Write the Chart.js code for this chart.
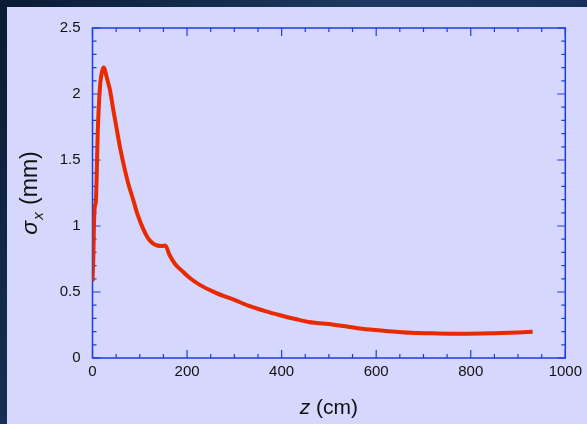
<!DOCTYPE html>
<html lang="en">
<head>
    <meta charset="UTF-8">
    <title>Sigma x vs z</title>
    <script src="https://cdn.jsdelivr.net/npm/chart.js"></script>
    <style>
        html, body {
            margin: 0;
            padding: 0;
        }
        body {
            width: 587px;
            height: 424px;
            overflow: hidden;
            background: linear-gradient(120deg, #0a1b33, #1c3a62 45%, #16305a 70%, #0b1d38);
            position: relative;
        }
        .panel {
            position: absolute;
            left: 7px;
            top: 7px;
            width: 580px;
            height: 417px;
            background: rgb(214, 215, 252);
        }
    </style>
</head>
<body>
    <div class="panel">
        <canvas id="sigmaChart" width="580" height="417"></canvas>
    </div>

    <script>
        // beam size along z
        const zValues = [0, 2, 3, 5, 7, 9, 11, 14, 17, 21, 24, 27, 32, 37, 44, 51, 58, 65, 75, 86, 96, 107, 117, 127, 137, 147, 154, 163, 175, 191, 208, 226, 261, 300, 331, 365, 401, 429, 457, 475, 499, 535, 570, 620, 675, 730, 780, 850, 900, 931];
        const sigmaValues = [0.58, 0.8, 1.0, 1.15, 1.18, 1.4, 1.7, 1.95, 2.1, 2.18, 2.2, 2.17, 2.1, 2.03, 1.88, 1.74, 1.6, 1.48, 1.33, 1.2, 1.08, 0.98, 0.91, 0.87, 0.852, 0.848, 0.852, 0.78, 0.71, 0.655, 0.6, 0.556, 0.493, 0.44, 0.394, 0.355, 0.32, 0.295, 0.272, 0.265, 0.258, 0.24, 0.221, 0.205, 0.191, 0.186, 0.184, 0.188, 0.193, 0.198];

        const xTickValues = [0, 200, 400, 600, 800, 1000];
        const yTickValues = [0, 0.5, 1, 1.5, 2, 2.5];

        const frameColor = '#1d3ce0';

        // box with inward major/minor ticks on all four sides
        const framePlugin = {
            id: 'frame',
            beforeDatasetsDraw(chart) {
                const ctx = chart.ctx;
                const a = chart.chartArea;
                const xs = chart.scales.x;
                const ys = chart.scales.y;
                ctx.save();
                ctx.strokeStyle = frameColor;
                ctx.lineWidth = 1.5;
                ctx.strokeRect(a.left, a.top, a.right - a.left, a.bottom - a.top);
                ctx.lineWidth = 1.2;
                ctx.beginPath();
                for (let v = 0; v <= 1000; v += 50) {
                    const px = xs.getPixelForValue(v);
                    const len = v % 200 === 0 ? 8 : 4;
                    ctx.moveTo(px, a.bottom);
                    ctx.lineTo(px, a.bottom - len);
                    ctx.moveTo(px, a.top);
                    ctx.lineTo(px, a.top + len);
                }
                for (let i = 0; i <= 25; i++) {
                    const py = ys.getPixelForValue(i / 10);
                    const len = i % 5 === 0 ? 8 : 4;
                    ctx.moveTo(a.left, py);
                    ctx.lineTo(a.left + len, py);
                    ctx.moveTo(a.right, py);
                    ctx.lineTo(a.right - len, py);
                }
                ctx.stroke();
                ctx.restore();
            },
            afterDraw(chart) {
                const ctx = chart.ctx;
                const a = chart.chartArea;
                ctx.save();
                ctx.fillStyle = '#111';
                ctx.textBaseline = 'alphabetic';

                // x title: italic z, then (cm)
                const big = '21px "Liberation Sans", Arial, sans-serif';
                const bigIt = 'italic 21px "Liberation Sans", Arial, sans-serif';
                ctx.font = bigIt;
                const wz = ctx.measureText('z').width;
                ctx.font = big;
                const wr = ctx.measureText(' (cm)').width;
                let x0 = (a.left + a.right) / 2 - (wz + wr) / 2;
                ctx.font = bigIt;
                ctx.fillText('z', x0, 407);
                ctx.font = big;
                ctx.fillText(' (cm)', x0 + wz, 407);

                // y title: italic sigma with subscript x, then (mm), rotated
                const yFont = '23px "Liberation Sans", Arial, sans-serif';
                const yIt = 'italic 23px "Liberation Sans", Arial, sans-serif';
                const subIt = 'italic 15px "Liberation Sans", Arial, sans-serif';
                ctx.translate(30, (a.top + a.bottom) / 2);
                ctx.rotate(-Math.PI / 2);
                ctx.font = yIt;
                const ws = ctx.measureText('σ').width;
                ctx.font = subIt;
                const wx = ctx.measureText('x').width;
                ctx.font = yFont;
                const wm = ctx.measureText(' (mm)').width;
                let s = -(ws + wx + 2 + wm) / 2;
                ctx.font = yIt;
                ctx.fillText('σ', s, 0);
                ctx.font = subIt;
                ctx.fillText('x', s + ws + 1, 6);
                ctx.font = yFont;
                ctx.fillText(' (mm)', s + ws + wx + 2, 0);
                ctx.restore();
            }
        };

        const tickFont = { family: '"Liberation Sans", Arial, sans-serif', size: 15 };

        const config = {
            type: 'line',
            data: {
                datasets: [{
                    data: zValues.map((z, i) => ({ x: z, y: sigmaValues[i] })),
                    borderColor: '#e82a00',
                    borderWidth: 4,
                    pointRadius: 0,
                    cubicInterpolationMode: 'monotone',
                    fill: false
                }]
            },
            options: {
                responsive: false,
                animation: false,
                layout: { padding: { top: 15, right: 19, left: 0, bottom: 0 } },
                plugins: {
                    legend: { display: false },
                    tooltip: { enabled: false }
                },
                scales: {
                    x: {
                        type: 'linear',
                        min: 0,
                        max: 1000,
                        grid: { display: false, drawTicks: false },
                        border: { display: false },
                        afterBuildTicks: (scale) => { scale.ticks = xTickValues.map(v => ({ value: v })); },
                        afterFit: (scale) => { scale.height = 66; },
                        ticks: {
                            color: '#111',
                            font: tickFont,
                            padding: 5,
                            maxRotation: 0,
                            callback: (v) => String(v)
                        }
                    },
                    y: {
                        min: 0,
                        max: 2.5,
                        grid: { display: false, drawTicks: false },
                        border: { display: false },
                        afterBuildTicks: (scale) => { scale.ticks = yTickValues.map(v => ({ value: v })); },
                        afterFit: (scale) => { scale.width = 85.5; },
                        ticks: {
                            color: '#111',
                            font: tickFont,
                            padding: 12,
                            callback: (v) => String(v)
                        }
                    }
                }
            },
            plugins: [framePlugin]
        };

        const ctx = document.getElementById('sigmaChart').getContext('2d');
        const sigmaChart = new Chart(ctx, config);
    </script>
</body>
</html>
